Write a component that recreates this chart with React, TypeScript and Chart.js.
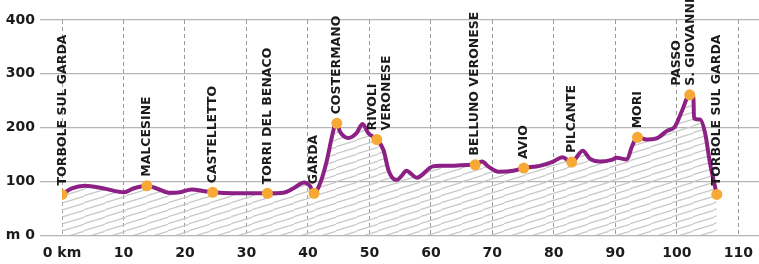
import React, { useEffect, useRef } from "react";
import { Chart, registerables } from "chart.js";

Chart.register(...registerables);

// Elevation profile (km, metres)
const profileKm = [
  0, 1.6, 3.7, 6.8, 10.1, 11.6, 13.8, 15.4, 17.6, 19.2, 21.1, 23.2, 24.5, 28.0, 32.2, 33.4,
  36.0, 37.6, 39.4, 40.3, 41.0, 42.0, 43.1, 43.9, 44.4, 44.7, 45.2, 46.6, 47.9, 48.9, 49.8,
  51.2, 52.3, 53.1, 53.9, 54.5, 55.2, 56.0, 57.7, 60.3, 61.5, 63.1, 66.6, 67.2, 68.3, 69.3,
  71.0, 73.4, 75.1, 77.7, 79.9, 81.4, 82.9, 84.7, 85.9, 87.5, 89.4, 90.2, 91.9, 92.7, 93.6,
  95.1, 96.7, 98.4, 99.7, 100.8, 102.1, 102.7, 102.8, 103.8, 104.6, 105.4, 106.5,
];
const profileElev = [
  76, 87, 92, 87, 80, 87, 92, 87, 79, 80, 85, 82, 80, 78, 78, 78,
  79, 87, 98, 92, 78, 97, 140, 183, 205, 208, 193, 181, 190, 207, 190,
  178, 158, 121, 105, 103, 110, 120, 107, 128, 129, 129, 131, 131, 137, 128,
  118, 120, 125, 129, 137, 145, 136, 157, 142, 137, 140, 144, 141, 165, 182,
  178, 180, 194, 202, 230, 261, 259, 217, 215, 190, 134, 76,
];

// Stops
const stopKm = [0, 13.8, 24.5, 33.4, 41.0, 44.7, 51.2, 67.2, 75.1, 82.9, 93.6, 102.1, 106.5];
const stopElev = [76, 92, 80, 78, 78, 208, 178, 131, 125, 136, 182, 261, 76];
const stopNames = [
  "TORBOLE SUL GARDA",
  "MALCESINE",
  "CASTELLETTO",
  "TORRI DEL BENACO",
  "GARDA",
  "COSTERMANO",
  "RIVOLI\nVERONESE",
  "BELLUNO VERONESE",
  "AVIO",
  "PILCANTE",
  "MORI",
  "PASSO\nS. GIOVANNI",
  "TORBOLE SUL GARDA",
];
const labelShift = [1, 0, 0, 0, 0, 0, 3, 0, 0, 0, 0, -6, 0];

const xTicks = [0, 10, 20, 30, 40, 50, 60, 70, 80, 90, 100, 110];
const yTicks = [0, 100, 200, 300, 400];

const FONT = "'DejaVu Sans', sans-serif";

function makeHatch(): CanvasPattern | string {
  const c = document.createElement("canvas");
  c.width = 21;
  c.height = 7;
  const g = c.getContext("2d");
  if (!g) return "#ddd";
  g.strokeStyle = "#c8c8c8";
  g.lineWidth = 1.2;
  for (const oy of [-7, 0, 7]) {
    g.beginPath();
    g.moveTo(-1, 7 + oy + 1 / 21);
    g.lineTo(22, 0 + oy - 1 / 21);
    g.stroke();
  }
  const p = g.createPattern(c, "repeat");
  return p || "#ddd";
}

const labelPlugin = {
  id: "stopLabels",
  afterDatasetsDraw(chart: any) {
    const meta = chart.getDatasetMeta(1);
    const ctx = chart.ctx;
    ctx.save();
    ctx.font = `bold 12.5px ${FONT}`;
    ctx.fillStyle = "#1b1b1b";
    ctx.textAlign = "left";
    ctx.textBaseline = "middle";
    meta.data.forEach((pt: any, i: number) => {
      const lines = stopNames[i].split("\n");
      const lh = 13.5;
      ctx.save();
      ctx.translate(pt.x + labelShift[i], pt.y - 9);
      ctx.rotate(-Math.PI / 2);
      lines.forEach((l, j) => {
        ctx.fillText(l, 0, (j - (lines.length - 1) / 2) * lh);
      });
      ctx.restore();
    });
    ctx.restore();
  },
};

export default function App() {
  const ref = useRef<HTMLCanvasElement>(null);
  useEffect(() => {
    document.body.style.margin = "0";
    if (!ref.current) return;
    const chart = new Chart(ref.current, {
      type: "line",
      data: {
        datasets: [
          {
            data: profileKm.map((x, i) => ({ x, y: profileElev[i] })),
            borderColor: "#8c2084",
            borderWidth: 4,
            pointRadius: 0,
            fill: "origin",
            backgroundColor: makeHatch() as any,
            cubicInterpolationMode: "monotone",
            order: 2,
          },
          {
            data: stopKm.map((x, i) => ({ x, y: stopElev[i] })),
            showLine: false,
            pointRadius: 5.5,
            pointBackgroundColor: "#f6aa35",
            pointBorderWidth: 0,
            borderColor: "#f6aa35",
            order: 1,
          },
        ],
      },
      options: {
        responsive: false,
        devicePixelRatio: 1,
        animation: false,
        layout: { autoPadding: false, padding: { top: 20, right: 0, bottom: 0, left: 0 } },
        plugins: { legend: { display: false }, tooltip: { enabled: false } },
        scales: {
          x: {
            type: "linear",
            min: 0,
            max: 113.37,
            afterBuildTicks: (axis: any) => {
              axis.ticks = xTicks.map((v) => ({ value: v }));
            },
            afterFit: (axis: any) => {
              axis.height = 28.7;
              axis.paddingRight = 0;
              axis.paddingLeft = 0;
            },
            border: { display: false, dash: [4, 3] },
            grid: {
              color: "#9a9a9a",
              lineWidth: 1,
              drawTicks: false,
            },
            ticks: {
              padding: 10,
              color: "#1b1b1b",
              font: { family: FONT, weight: "bold", size: 14 },
              maxRotation: 0,
              callback: (v: any) => (v === 0 ? "0 km" : String(v)),
            },
          },
          y: {
            min: 0,
            max: 400,
            afterBuildTicks: (axis: any) => {
              axis.ticks = yTicks.map((v) => ({ value: v }));
            },
            afterFit: (axis: any) => {
              axis.width = 62;
            },
            border: { display: false },
            grid: {
              color: "#b5b5b5",
              lineWidth: 1.3,
              drawTicks: true,
              tickLength: 22,
            },
            ticks: {
              padding: 5,
              color: "#1b1b1b",
              font: { family: FONT, weight: "bold", size: 14 },
              callback: (v: any) => (v === 0 ? "m 0" : String(v)),
            },
          },
        },
      },
      plugins: [labelPlugin],
    } as any);
    return () => chart.destroy();
  }, []);
  return (
    <div style={{ width: 759, height: 264 }}>
      <canvas ref={ref} width={759} height={264} style={{ display: "block" }} />
    </div>
  );
}
